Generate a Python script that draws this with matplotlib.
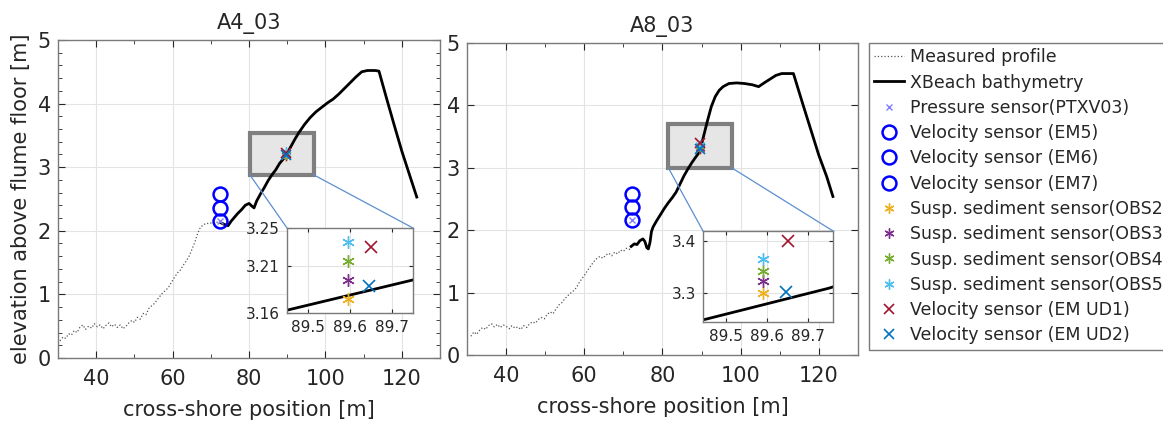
import matplotlib
import matplotlib.pyplot as plt
import numpy as np
from matplotlib.patches import Rectangle, ConnectionPatch
from matplotlib.ticker import MultipleLocator

matplotlib.use('Agg')

plt.rcParams['font.family'] = ['DejaVu Sans']
plt.rcParams['text.color'] = '#262626'
plt.rcParams['axes.labelcolor'] = '#262626'
plt.rcParams['xtick.color'] = '#262626'
plt.rcParams['ytick.color'] = '#262626'

# run names
titles = ['A4_03', 'A8_03']

# measured profile, A4_03
meas_x_a4 = [30.5, 31.3, 32.0, 32.8, 33.5, 34.2, 35.0, 35.7, 36.5, 37.2, 38.0, 38.8,
             39.5, 40.3, 41.0, 41.8, 42.5, 43.3, 44.0, 44.8, 45.5, 46.3, 47.0, 47.8,
             48.5, 49.3, 50.0, 50.8, 51.5, 52.3, 53.0, 53.8, 54.5, 55.3, 56.0, 56.8,
             57.5, 58.3, 59.0, 59.8, 60.5, 61.3, 62.0, 62.8, 63.5, 64.3, 65.0, 65.8,
             66.5, 67.3, 68.0, 68.8, 69.5, 70.3, 71.0, 71.8, 72.5, 73.3]
meas_y_a4 = [0.27, 0.33, 0.31, 0.38, 0.36, 0.43, 0.40, 0.48, 0.52, 0.45, 0.50, 0.47,
             0.54, 0.49, 0.52, 0.46, 0.51, 0.55, 0.49, 0.53, 0.48, 0.52, 0.46, 0.50,
             0.55, 0.59, 0.56, 0.64, 0.61, 0.70, 0.68, 0.78, 0.82, 0.86, 0.92, 0.98,
             1.03, 1.07, 1.12, 1.20, 1.27, 1.34, 1.38, 1.46, 1.52, 1.60, 1.70, 1.82,
             1.95, 2.06, 2.09, 2.12, 2.11, 2.13, 2.12, 2.14, 2.13, 2.12]

# XBeach bed level, A4_03
xb_x_a4 = [72.5, 73.5, 74.5, 75.3, 76.0, 77.0, 78.0, 79.0, 80.0, 80.7, 81.3, 82.0,
           83.0, 84.0, 85.0, 86.0, 87.0, 88.0, 89.45, 89.75, 91.0, 92.0, 93.0, 94.5,
           96.0, 97.5, 99.0, 100.5, 102.0, 103.5, 105.0, 106.5, 108.0, 109.5, 111.0,
           113.0, 114.0, 116.0, 118.0, 120.0, 122.0, 123.9]
xb_y_a4 = [2.13, 2.10, 2.08, 2.15, 2.20, 2.27, 2.33, 2.40, 2.43, 2.39, 2.36, 2.47,
           2.58, 2.68, 2.79, 2.88, 2.96, 3.06, 3.163, 3.195, 3.33, 3.44, 3.54, 3.67,
           3.78, 3.87, 3.94, 4.01, 4.07, 4.15, 4.24, 4.33, 4.42, 4.50, 4.52,
           4.52, 4.51, 4.08, 3.66, 3.25, 2.88, 2.53]

# measured profile, A8_03
meas_x_a8 = [31.0, 31.8, 32.5, 33.3, 34.0, 34.8, 35.5, 36.3, 37.0, 37.8, 38.5, 39.3,
             40.0, 40.8, 41.5, 42.3, 43.0, 43.8, 44.5, 45.3, 46.0, 46.8, 47.5, 48.3,
             49.0, 49.8, 50.5, 51.3, 52.0, 52.8, 53.5, 54.3, 55.0, 55.8, 56.5, 57.3,
             58.0, 58.8, 59.5, 60.3, 61.0, 61.8, 62.5, 63.3, 64.0, 64.8, 65.5, 66.3,
             67.0, 67.8, 68.5, 69.3, 70.0, 70.8, 71.5, 72.3]
meas_y_a8 = [0.30, 0.37, 0.33, 0.40, 0.44, 0.41, 0.47, 0.50, 0.45, 0.49, 0.44, 0.48,
             0.46, 0.42, 0.47, 0.43, 0.45, 0.41, 0.47, 0.44, 0.50, 0.53, 0.51, 0.57,
             0.60, 0.58, 0.65, 0.69, 0.66, 0.74, 0.80, 0.84, 0.90, 0.95, 0.99, 1.03,
             1.08, 1.17, 1.23, 1.30, 1.37, 1.44, 1.50, 1.55, 1.58, 1.55, 1.60, 1.63,
             1.59, 1.65, 1.62, 1.68, 1.66, 1.71, 1.69, 1.75]

# XBeach bed level, A8_03
xb_x_a8 = [72.0, 72.8, 73.5, 74.2, 75.0, 75.5, 76.0, 76.4, 76.8, 77.2, 77.6, 78.5,
           79.5, 80.5, 81.5, 82.5, 83.5, 84.5, 85.5, 86.5, 87.5, 88.5, 89.45, 89.75,
           90.5, 91.5, 92.5, 93.5, 94.5, 95.5, 97.0, 99.0, 101.0, 103.0, 104.6, 106.0,
           107.5, 109.0, 110.5, 113.5, 116.0, 118.0, 120.0, 122.0, 123.6]
xb_y_a8 = [1.74, 1.78, 1.77, 1.83, 1.86, 1.82, 1.72, 1.70, 1.80, 1.98, 2.05, 2.15,
           2.25, 2.35, 2.44, 2.52, 2.61, 2.74, 2.87, 2.98, 3.08, 3.17, 3.25, 3.31,
           3.50, 3.75, 3.98, 4.14, 4.24, 4.30, 4.35, 4.36, 4.35, 4.33, 4.30, 4.36,
           4.42, 4.48, 4.51, 4.51, 4.00, 3.60, 3.20, 2.86, 2.54]

# instrument positions (x, z)
ptxv_x = [72.4, 72.2]
ptxv_y = [2.15, 2.16]
em_x = [72.4, 72.2]
em_y = [[2.58, 2.36, 2.15], [2.58, 2.37, 2.16]]  # EM5, EM6, EM7
obs_x = [89.595, 89.59]
obs_y = [[3.175, 3.195, 3.215, 3.235], [3.300, 3.323, 3.344, 3.367]]  # OBS2..OBS5
ud1 = [(89.65, 3.230), (89.65, 3.400)]
ud2 = [(89.645, 3.189), (89.645, 3.302)]

# zoom window in main axes and inset limits
zoom_box = [(80.2, 2.88, 16.7, 0.66), (81.5, 3.0, 16.2, 0.70)]
inset_xlim = [(89.45, 89.75), (89.445, 89.76)]
inset_ylim = [(3.16, 3.25), (3.245, 3.42)]
inset_yticks = [[3.16, 3.21, 3.25], [3.3, 3.4]]

obs_cols = ['#EDB120', '#7E2F8E', '#77AC30', '#4DBEEE']
obs_names = ['OBS2', 'OBS3', 'OBS4', 'OBS5']
spine_col = '#7a7a7a'

meas_x = [meas_x_a4, meas_x_a8]
meas_y = [meas_y_a4, meas_y_a8]
xb_x = [xb_x_a4, xb_x_a8]
xb_y = [xb_y_a4, xb_y_a8]

fig = plt.figure(figsize=(11.63, 4.28), dpi=100)
main_pos = [[0.0499, 0.1636, 0.3285, 0.743], [0.4015, 0.1706, 0.3362, 0.729]]
inset_pos = [[0.2468, 0.2687, 0.1083, 0.1986], [0.6045, 0.2477, 0.1118, 0.2126]]


def draw_sensors(ax, i, ms_scale=1.0):
    h = []
    h += ax.plot(meas_x[i], meas_y[i], ':', color='#555555', lw=0.9,
                 label='Measured profile')
    h += ax.plot(xb_x[i], xb_y[i], '-', color='k', lw=2.0,
                 label='XBeach bathymetry')
    h += ax.plot(ptxv_x[i], ptxv_y[i], 'x', color='#8080ff', ms=4, mew=1.0,
                 ls='none', label='Pressure sensor(PTXV03)')
    for k, nm in enumerate(['EM5', 'EM6', 'EM7']):
        h += ax.plot(em_x[i], em_y[i][k], 'o', mfc='none', mec='#0000ff', ms=10,
                     mew=1.8, ls='none', label=f'Velocity sensor ({nm})')
    for k in range(4):
        h += ax.plot(obs_x[i], obs_y[i][k], color=obs_cols[k], ms=9 * ms_scale,
                     mew=1.0, marker=(6, 2, 0), ls='none',
                     label=f'Susp. sediment sensor({obs_names[k]})')
    h += ax.plot(*ud1[i], 'x', color='#A2142F', ms=9 * ms_scale, mew=1.2,
                 ls='none', label='Velocity sensor (EM UD1)')
    h += ax.plot(*ud2[i], 'x', color='#0072BD', ms=9 * ms_scale, mew=1.2,
                 ls='none', label='Velocity sensor (EM UD2)')
    return h


def style_axes(ax, size, pad):
    for s in ax.spines.values():
        s.set_color(spine_col)
        s.set_linewidth(1.0)
    ax.tick_params(which='both', direction='in', top=True, right=True,
                   labelsize=size, pad=pad)
    ax.grid(True, color='#e3e3e3', lw=0.8)
    ax.set_axisbelow(True)


handles = None
for i in range(2):
    ax = fig.add_axes(main_pos[i])
    handles = draw_sensors(ax, i, ms_scale=0.8)
    ax.set_xlim(30, 130)
    ax.set_ylim(0, 5)
    ax.xaxis.set_major_locator(MultipleLocator(20))
    ax.xaxis.set_minor_locator(MultipleLocator(10))
    if i == 0:
        ax.yaxis.set_minor_locator(MultipleLocator(0.2))
        ax.set_ylabel('elevation above flume floor [m]', fontsize=15, labelpad=5)
    style_axes(ax, 15, 8)
    ax.tick_params(axis='y', pad=5)
    ax.tick_params(which='major', length=5)
    ax.tick_params(which='minor', length=3)
    ax.set_xlabel('cross-shore position [m]', fontsize=15, labelpad=8)
    ax.set_title(titles[i], fontsize=15, pad=8)

    bx, by, bw, bh = zoom_box[i]
    ax.add_patch(Rectangle((bx, by), bw, bh, facecolor='#e6e6e6',
                           edgecolor='#7f7f7f', lw=3, zorder=1))

    ins = fig.add_axes(inset_pos[i])
    draw_sensors(ins, i)
    ins.set_xlim(*inset_xlim[i])
    ins.set_ylim(*inset_ylim[i])
    ins.set_xticks([89.5, 89.6, 89.7])
    ins.set_yticks(inset_yticks[i])
    ins.set_yticklabels([f'{v:g}' for v in inset_yticks[i]])
    style_axes(ins, 11, 5)
    ins.tick_params(length=3)

    for corner_main, corner_ins in [((bx, by), (0, 1)), ((bx + bw, by), (1, 1))]:
        cp = ConnectionPatch(xyA=corner_main, coordsA=ax.transData,
                             xyB=corner_ins, coordsB=ins.transAxes,
                             color='#5b8fd0', lw=0.9)
        fig.add_artist(cp)

leg = fig.legend(handles=handles, loc='upper left',
                 bbox_to_anchor=(869 / 1163, 1 - 43 / 428), borderaxespad=0,
                 fontsize=12.5, frameon=True, fancybox=False, framealpha=1,
                 edgecolor=spine_col, labelspacing=0.42, handlelength=1.7,
                 handletextpad=0.35, borderpad=0.3, numpoints=1)
leg.get_frame().set_linewidth(1.0)

plt.savefig('out.png', dpi=100)
